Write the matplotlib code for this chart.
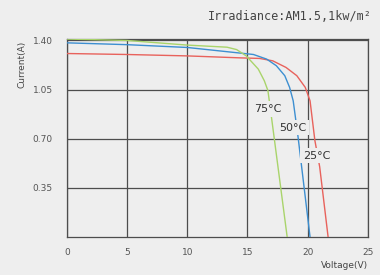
import matplotlib
matplotlib.use("Agg")
import matplotlib.pyplot as plt

# I-V curves (voltage in V, current in A)
v_25 = [0, 5, 10, 14.4, 16.0, 17.1, 18.2, 19.1, 19.8, 20.2, 20.6, 21.0, 21.7]
i_25 = [1.307, 1.300, 1.290, 1.276, 1.272, 1.255, 1.208, 1.149, 1.066, 0.970, 0.688, 0.500, 0.0]

v_50 = [0, 5, 10, 14.4, 15.5, 16.6, 17.4, 18.1, 18.5, 18.8, 19.2, 20.2]
i_50 = [1.383, 1.370, 1.350, 1.310, 1.300, 1.267, 1.220, 1.149, 1.066, 0.970, 0.715, 0.0]

v_75 = [0, 5, 10, 13.3, 14.1, 14.9, 15.9, 16.4, 16.7, 17.0, 18.3]
i_75 = [1.410, 1.400, 1.367, 1.352, 1.335, 1.290, 1.196, 1.113, 1.043, 0.850, 0.0]

series = [
    ("25°C", v_25, i_25, "#e8625c", (20.75, 0.58)),
    ("50°C", v_50, i_50, "#3d8fd1", (18.75, 0.78)),
    ("75°C", v_75, i_75, "#a9d46b", (16.7, 0.91)),
]

x_ticks = [0, 5, 10, 15, 20, 25]
y_ticks = [0.35, 0.70, 1.05, 1.40]

bg = "#eeeeee"
grid_c = "#4d4d4d"
text_c = "#555555"

fig = plt.figure(figsize=(3.8, 2.75), dpi=100, facecolor=bg)
ax = fig.add_axes([0.176, 0.138, 0.792, 0.720])
ax.set_facecolor(bg)

for label, v, i, color, (lx, ly) in series:
    ax.plot(v, i, color=color, lw=1.0, zorder=3, solid_joinstyle="round")

for label, v, i, color, (lx, ly) in series:
    ax.text(lx, ly, label, ha="center", va="center", fontsize=8,
            color="#333333", zorder=4,
            bbox=dict(boxstyle="square,pad=0.25", fc=bg, ec="none"))

ax.set_xlim(0, 25)
ax.set_ylim(0, 1.41)
ax.set_xticks(x_ticks)
ax.set_yticks(y_ticks)
ax.set_yticklabels([f"{t:.2f}" for t in y_ticks])
ax.tick_params(length=0, labelsize=6.5, labelcolor=text_c)
ax.tick_params(axis="x", pad=8)
ax.tick_params(axis="y", pad=10)
ax.grid(True, color=grid_c, lw=0.9, zorder=1)
for s in ax.spines.values():
    s.set_color(grid_c)
    s.set_linewidth(0.9)

fig.text(0.978, 0.94, "Irradiance:AM1.5,1kw/m²", ha="right", va="center",
         fontsize=8.5, family="DejaVu Sans Mono", color="#444444")
fig.text(0.058, 0.765, "Current(A)", rotation=90, ha="center", va="center",
         fontsize=6.5, color="#444444")
fig.text(0.968, 0.018, "Voltage(V)", ha="right", va="bottom",
         fontsize=6.5, color="#444444")

fig.savefig("out.png", dpi=100, facecolor=bg)
